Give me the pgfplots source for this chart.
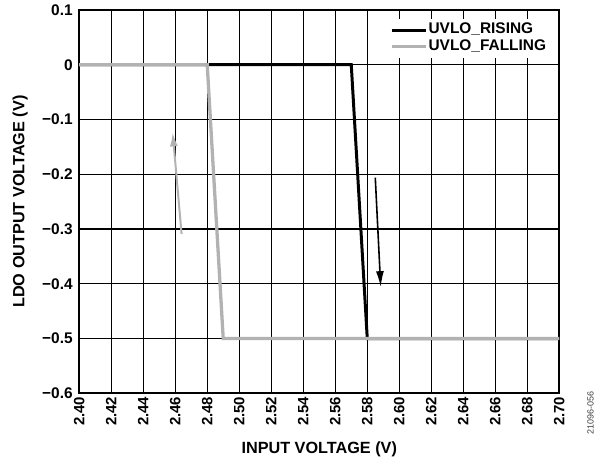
\documentclass[border=0pt]{standalone}
\usepackage{fontspec}
\setmainfont{Liberation Sans}
\usepackage{pgfplots}
\pgfplotsset{compat=1.18}
\usetikzlibrary{arrows.meta}
\definecolor{fallgray}{RGB}{178,178,178}
\begin{document}
\begin{tikzpicture}
\begin{axis}[
  at={(0pt,0pt)}, anchor=south west,
  scale only axis,
  width=482.2pt, height=385pt,
  xmin=2.40, xmax=2.70, ymin=-0.6, ymax=0.1,
  xtick={2.40,2.42,...,2.70},
  ytick={-0.6,-0.5,-0.4,-0.3,-0.2,-0.1,0,0.1},
  yticklabels={−0.6,−0.5,−0.4,−0.3,−0.2,−0.1,0,0.1},
  xticklabel style={rotate=90, anchor=east, font=\fontsize{15}{16}\selectfont\bfseries,
    /pgf/number format/fixed, /pgf/number format/fixed zerofill, /pgf/number format/precision=2},
  yticklabel style={font=\fontsize{15.5}{16}\selectfont\bfseries, xshift=-3pt},
  /pgf/number format/assume math mode=true,
  grid=major,
  major grid style={black, line width=1.2pt},
  axis line style={black, line width=1.8pt},
  major tick style={black, line width=1.2pt},
  major tick length=5pt,
  xlabel={INPUT VOLTAGE (V)},
  ylabel={LDO OUTPUT VOLTAGE (V)},
  label style={font=\fontsize{16.3}{18}\selectfont\bfseries},
  xlabel style={at={(axis description cs:0.5,-0.146)}, anchor=center},
  ylabel style={at={(axis description cs:-0.123,0.5)}, anchor=center},
  legend style={at={(rel axis cs:0.98,0.977)}, anchor=north east, draw=none, fill=white,
    font=\fontsize{15.5}{16}\selectfont\bfseries, inner sep=3pt,
    nodes={inner sep=0.5pt, text height=11.5pt, text depth=4pt}, row sep=0pt},
  legend cell align=left,
  legend image code/.code={\draw[#1] (0pt,0pt) -- (35pt,0pt);},
]
\addplot[black, line width=3pt] coordinates {(2.40,0) (2.57,0) (2.58,-0.5) (2.70,-0.5)};
\addlegendentry{UVLO\_RISING}
\addplot[fallgray, line width=3.3pt] coordinates {(2.40,0) (2.48,0) (2.49,-0.5) (2.70,-0.5)};
\addlegendentry{UVLO\_FALLING}
\addplot[fallgray, line width=2pt, forget plot, -{Latex[length=14pt,width=8pt]}] coordinates {(2.464,-0.309) (2.4584,-0.1236)};
\addplot[black, line width=1.6pt, forget plot, -{Latex[length=16pt,width=8pt]}] coordinates {(2.585,-0.206) (2.5884,-0.406)};
\end{axis}
\node[rotate=90, font=\fontsize{9}{10}\selectfont, text=black!75] at (513.5pt,-19.5pt) {21096-056};
\path[use as bounding box] (-79.5pt,-60pt) rectangle (517.5pt,395pt);
\end{tikzpicture}
\end{document}
